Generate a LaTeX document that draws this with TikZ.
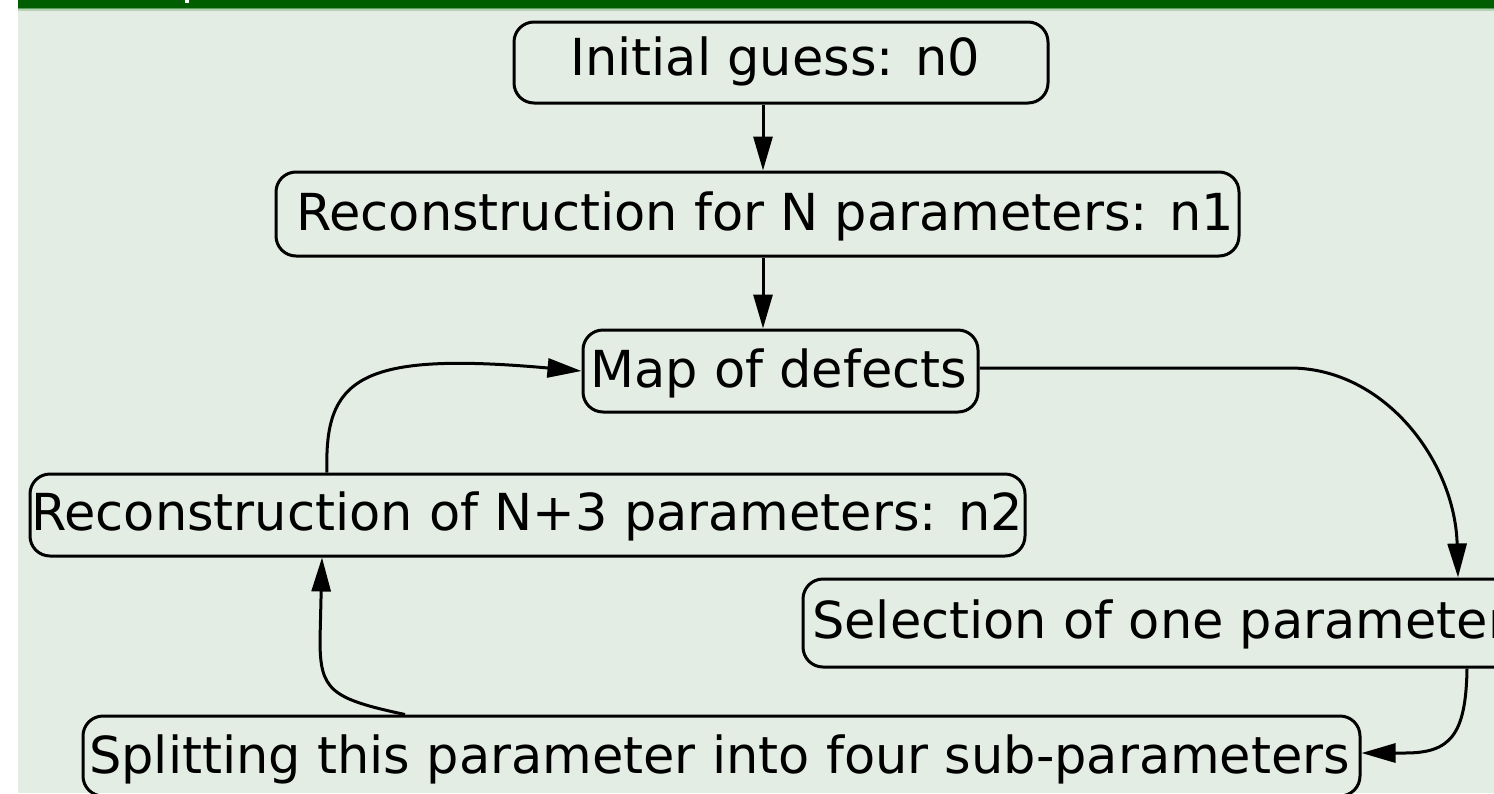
\documentclass[tikz,border=0pt]{standalone}
\usepackage{fontspec}
\setmainfont{DejaVu Sans}
\usetikzlibrary{arrows.meta}
\definecolor{slidebg}{HTML}{E3EDE3}
\definecolor{bargreen}{HTML}{005E00}
\definecolor{barlight}{HTML}{5C9C5C}
\definecolor{barpale}{HTML}{B4D2B4}
\begin{document}
\begin{tikzpicture}[x=1pt,y=-1pt,
  box/.style={draw, line width=3pt, rounded corners=20pt, inner sep=0pt},
  lbl/.style={anchor=base west, inner sep=0pt, font=\fontsize{51}{51}\selectfont},
  flow/.style={line width=3pt, -{Triangle[length=34pt,width=19pt]}}]
\clip (0,0) rectangle (1494,793);
% slide background and title bar
\fill[white] (0,0) rectangle (1494,793);
\fill[slidebg] (18,0) rectangle (1494,793);
\fill[barpale] (18,0) rectangle (1494,10.5);
\fill[barlight] (18,0) rectangle (1494,9.3);
\fill[bargreen] (18,0) rectangle (1494,8.2);
\fill[white] (184.5,0) rectangle (189,3.3);

% boxes
\node[box, minimum width=534pt, minimum height=81pt] (n0) at (781,62.5) {};
\node[box, minimum width=963pt, minimum height=84pt] (n1) at (757.5,214) {};
\node[box, minimum width=395pt, minimum height=82pt] (map) at (780.5,371) {};
\node[box, minimum width=995pt, minimum height=82pt] (n2) at (527.5,515) {};
\node[box, minimum width=722pt, minimum height=88pt] (sel) at (1164,623) {};
\node[box, minimum width=1277pt, minimum height=80pt] (split) at (721.5,756) {};

% texts
\node[lbl] (t0) at (570,75) {Initial guess: n0};
\node[lbl] (t1) at (296,230) {Reconstruction for N parameters: n1};
\node[lbl] (tm) at (590,387) {Map of defects};
\node[lbl] (t2) at (31,530) {Reconstruction of N+3 parameters: n2};
\node[lbl] (ts) at (812,638) {Selection of one parameter};
\node[lbl] (tp) at (89,773) {Splitting this parameter into four sub-parameters};

% connectors
\coordinate (axis) at (763,0);
\coordinate (selx) at (1458,0);
\coordinate (selout) at (1467,0);
\coordinate (splx) at (405,0);
\coordinate (upx) at (322,0);
\coordinate (n2x) at (327,0);
\draw[flow] (n0.south -| axis) -- (n1.north -| axis);
\draw[flow] (n1.south -| axis) -- (map.north -| axis);
\draw[flow] ([yshift=3pt]map.east) -- (1290,368)
  .. controls (1385,368) and (1455,462) .. (sel.north -| selx);
\draw[flow] (sel.south -| selout) .. controls +(-1,67) and +(45,0) .. (1405,753) -- (split.east |- 0,753);
\draw[flow] (split.north -| splx) .. controls +(-75,-16) and +(0,50) .. (320,640) -- (n2.south -| upx);
\draw[flow] (n2.north -| n2x) .. controls +(-3,-94) and +(-223,-20) .. (map.west);
\end{tikzpicture}
\end{document}
